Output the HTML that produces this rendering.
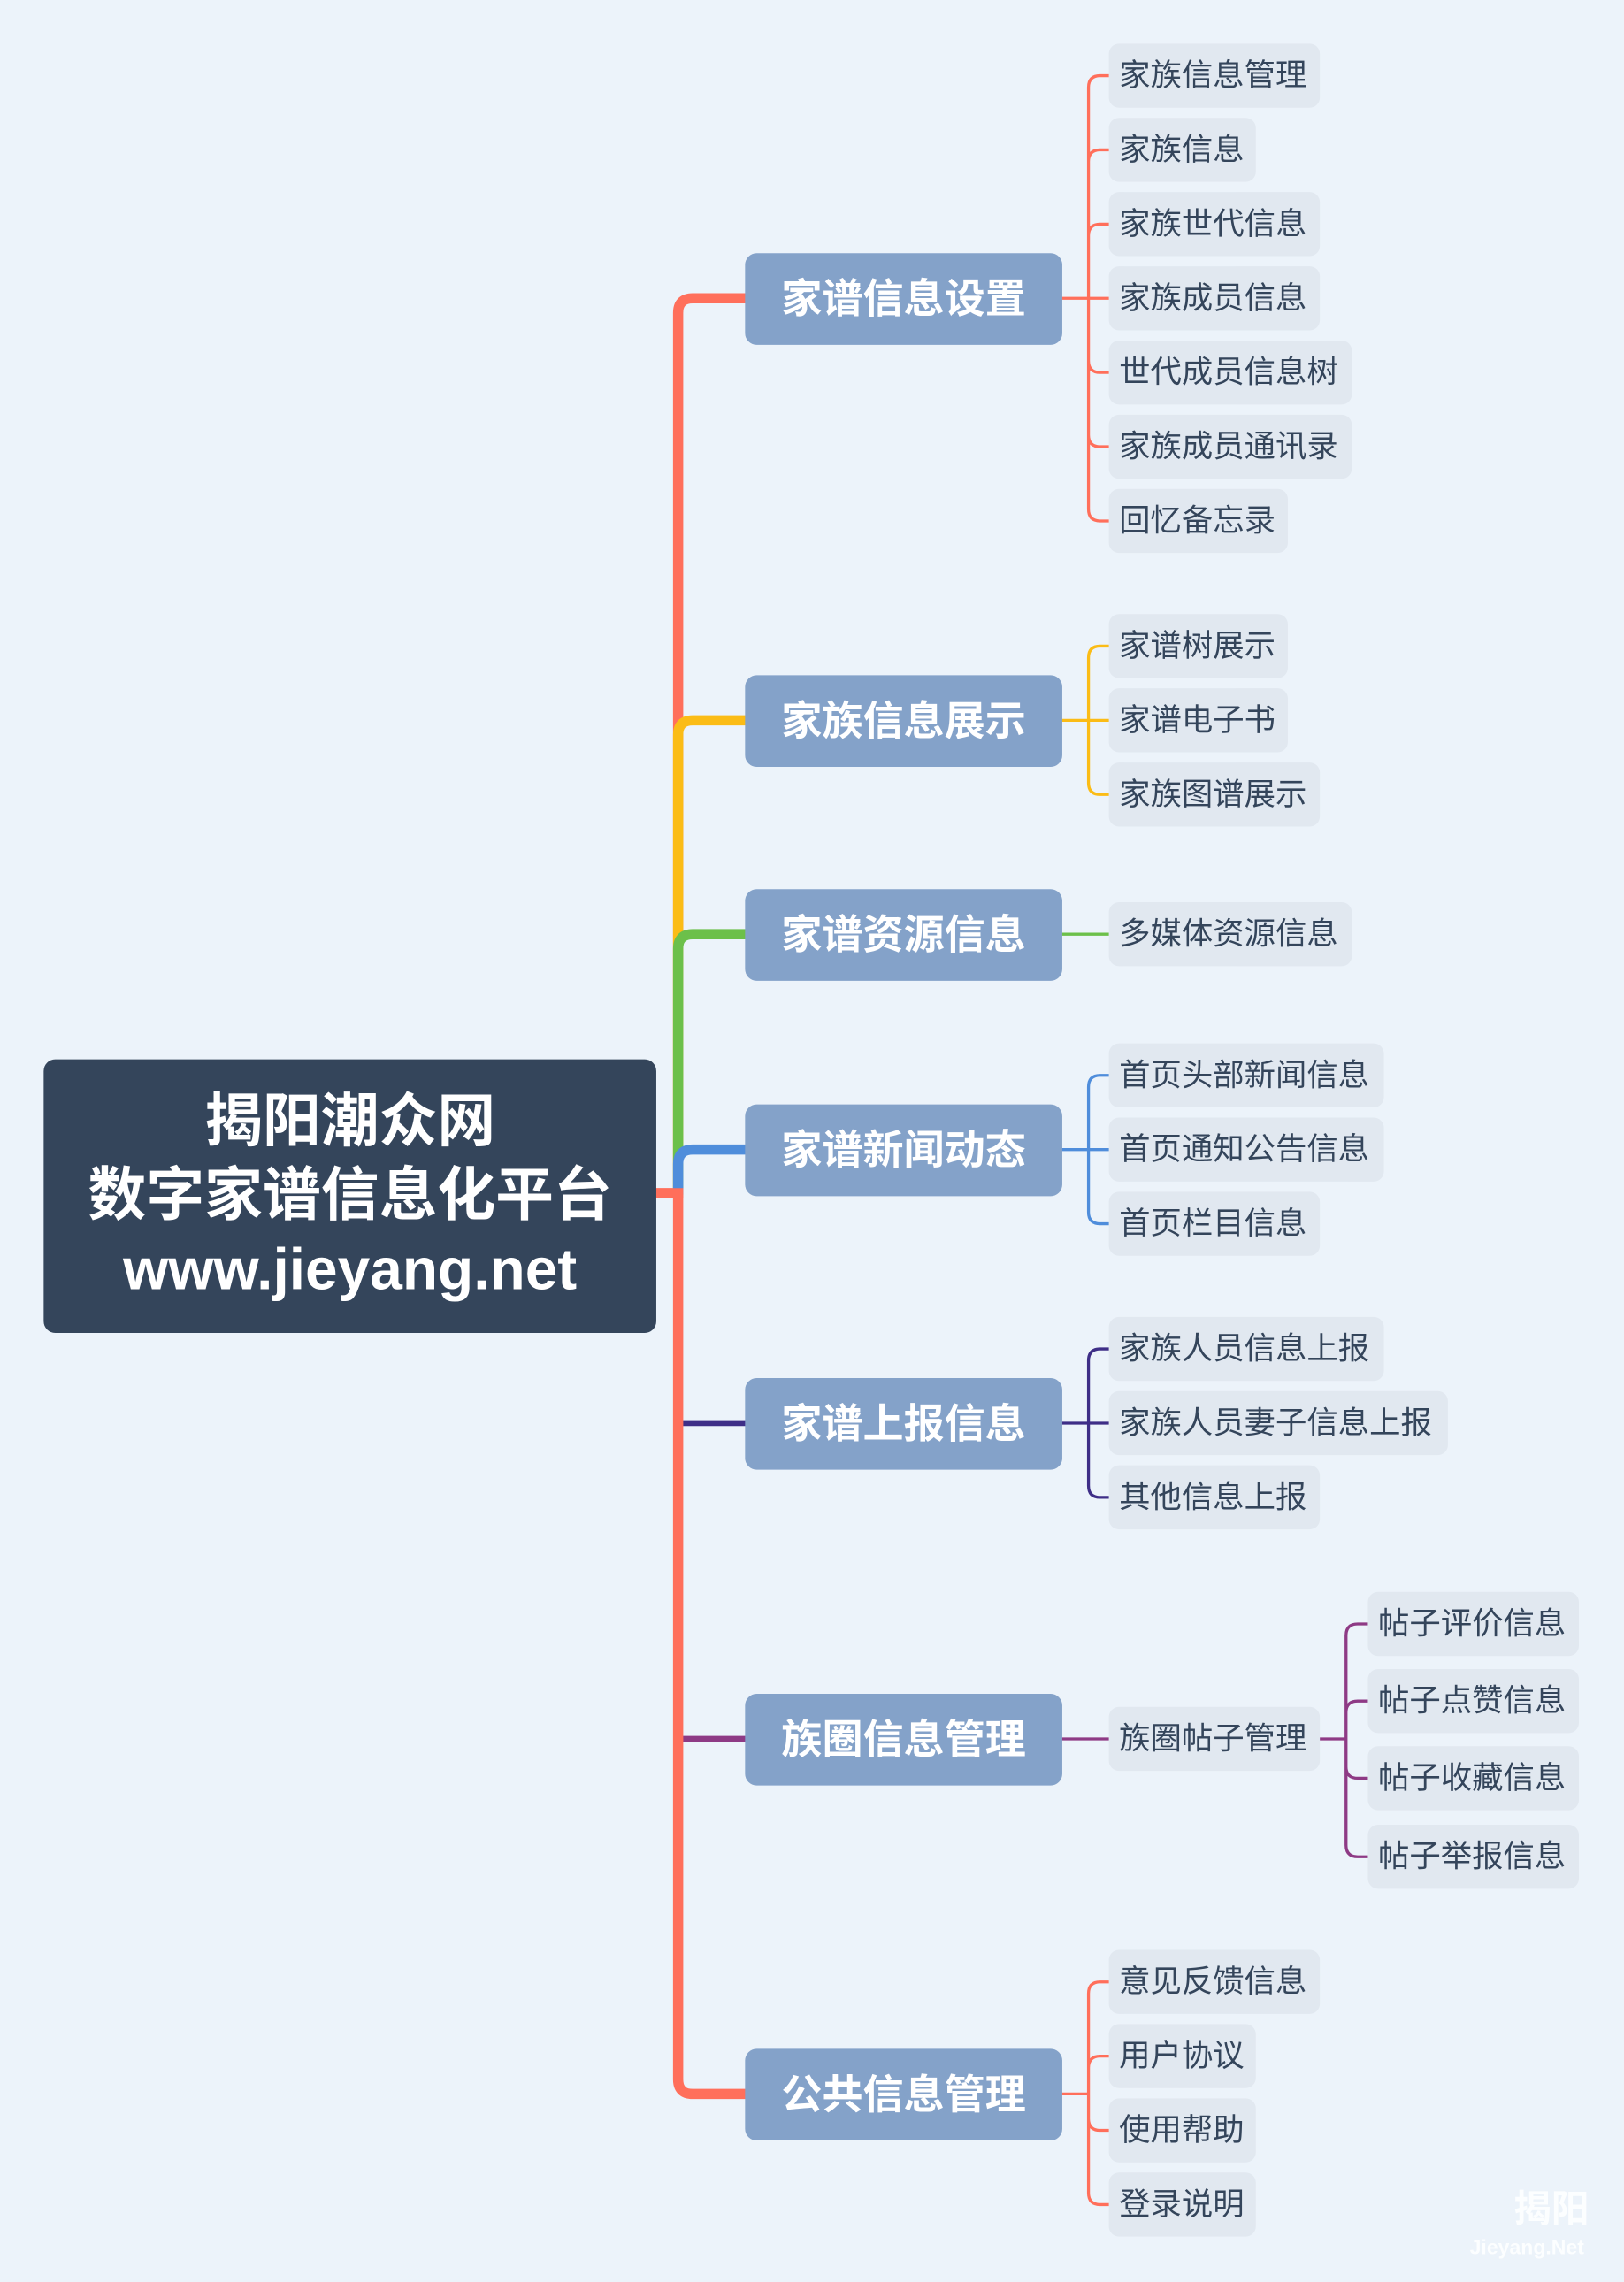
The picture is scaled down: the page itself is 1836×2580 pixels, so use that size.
<!DOCTYPE html>
<html><head><meta charset="utf-8"><style>
html,body{margin:0;padding:0;width:1836px;height:2580px;overflow:hidden;background:#ecf3fa}
#w{position:absolute;left:0;top:0;width:1116px;height:1568px;transform:scale(1.64516);transform-origin:0 0;font-family:"Liberation Sans","Noto Sans CJK SC",sans-serif}
.r{position:absolute;left:30px;top:728px;width:421px;height:188px;background:#34455b;border-radius:8px;color:#fff;font-weight:bold;font-size:40px;line-height:51px;text-align:center;padding-top:18px;box-sizing:border-box}
.b{position:absolute;left:512px;width:218px;height:63px;background:#84a2c9;border-radius:8px;color:#fff;font-weight:bold;font-size:28px;line-height:63px;text-align:center}
.l{position:absolute;height:44px;background:#e1e8f0;border-radius:7px;color:#34455b;font-size:21.5px;line-height:45px;padding-left:7px;box-sizing:border-box;white-space:nowrap}
svg{position:absolute;left:0;top:0}
</style></head><body><div id="w">
<svg width="1116" height="1568" fill="none" stroke-linecap="round">
<g stroke-width="7">
<path stroke="#ff6f5b" d="M451 820 H466 V215 Q466 205 476 205 H512"/>
<path stroke="#fbbc16" d="M466 820 V505 Q466 495 476 495 H512"/>
<path stroke="#6cc04a" d="M466 820 V652 Q466 642 476 642 H512"/>
<path stroke="#4f8ddb" d="M466 820 V800 Q466 790 476 790 H512"/>
<path stroke="#3e2e87" stroke-width="4" d="M468 978 H512"/>
<path stroke="#8e3a85" stroke-width="4" d="M468 1195 H512"/>
<path stroke="#ff6f5b" d="M451 820 H466 V1429 Q466 1439 476 1439 H512"/>
</g>
<g stroke-width="2">
<path stroke="#ff6f5b" d="M730 205H762M748 60V350M748 60Q748 52 756 52H762M748 111Q748 103 756 103H762M748 162Q748 154 756 154H762M748 248Q748 256 756 256H762M748 299Q748 307 756 307H762M748 350Q748 358 756 358H762"/>
<path stroke="#fbbc16" d="M730 495H762M748 452V538M748 452Q748 444 756 444H762M748 538Q748 546 756 546H762"/>
<path stroke="#6cc04a" d="M730 642H762"/>
<path stroke="#4f8ddb" d="M730 790H762M748 747V833M748 747Q748 739 756 739H762M748 833Q748 841 756 841H762"/>
<path stroke="#3e2e87" d="M730 978H762M748 935V1021M748 935Q748 927 756 927H762M748 1021Q748 1029 756 1029H762"/>
<path stroke="#8e3a85" d="M730 1195H762M907 1195H925M925 1124V1268M925 1124Q925 1116 933 1116H940M925 1177Q925 1169 933 1169H940M925 1214Q925 1222 933 1222H940M925 1268Q925 1276 933 1276H940"/>
<path stroke="#ff6f5b" d="M730 1439H748M748 1370V1507M748 1370Q748 1362 756 1362H762M748 1421Q748 1413 756 1413H762M748 1456Q748 1464 756 1464H762M748 1507Q748 1515 756 1515H762"/>
</g>
</svg>
<div class="r">揭阳潮众网<br>数字家谱信息化平台<br>www.jieyang.net</div>
<div class="b" style="top:174px">家谱信息设置</div>
<div class="b" style="top:464px">家族信息展示</div>
<div class="b" style="top:611px">家谱资源信息</div>
<div class="b" style="top:759px">家谱新闻动态</div>
<div class="b" style="top:947px">家谱上报信息</div>
<div class="b" style="top:1164px">族圈信息管理</div>
<div class="b" style="top:1408px">公共信息管理</div>
<div class="l" style="left:762px;top:30px;width:145px">家族信息管理</div>
<div class="l" style="left:762px;top:81px;width:101px">家族信息</div>
<div class="l" style="left:762px;top:132px;width:145px">家族世代信息</div>
<div class="l" style="left:762px;top:183px;width:145px">家族成员信息</div>
<div class="l" style="left:762px;top:234px;width:167px">世代成员信息树</div>
<div class="l" style="left:762px;top:285px;width:167px">家族成员通讯录</div>
<div class="l" style="left:762px;top:336px;width:123px">回忆备忘录</div>
<div class="l" style="left:762px;top:422px;width:123px">家谱树展示</div>
<div class="l" style="left:762px;top:473px;width:123px">家谱电子书</div>
<div class="l" style="left:762px;top:524px;width:145px">家族图谱展示</div>
<div class="l" style="left:762px;top:620px;width:167px">多媒体资源信息</div>
<div class="l" style="left:762px;top:717px;width:189px">首页头部新闻信息</div>
<div class="l" style="left:762px;top:768px;width:189px">首页通知公告信息</div>
<div class="l" style="left:762px;top:819px;width:145px">首页栏目信息</div>
<div class="l" style="left:762px;top:905px;width:189px">家族人员信息上报</div>
<div class="l" style="left:762px;top:956px;width:233px">家族人员妻子信息上报</div>
<div class="l" style="left:762px;top:1007px;width:145px">其他信息上报</div>
<div class="l" style="left:762px;top:1173px;width:145px">族圈帖子管理</div>
<div class="l" style="left:940px;top:1094px;width:145px">帖子评价信息</div>
<div class="l" style="left:940px;top:1147px;width:145px">帖子点赞信息</div>
<div class="l" style="left:940px;top:1200px;width:145px">帖子收藏信息</div>
<div class="l" style="left:940px;top:1254px;width:145px">帖子举报信息</div>
<div class="l" style="left:762px;top:1340px;width:145px">意见反馈信息</div>
<div class="l" style="left:762px;top:1391px;width:101px">用户协议</div>
<div class="l" style="left:762px;top:1442px;width:101px">使用帮助</div>
<div class="l" style="left:762px;top:1493px;width:101px">登录说明</div>
<div style="position:absolute;left:1040px;top:1498px;color:rgba(255,255,255,0.85);font-size:26px;font-weight:bold">揭阳</div>
<div style="position:absolute;left:1010px;top:1536px;color:rgba(255,255,255,0.85);font-size:14px;font-weight:bold">Jieyang.Net</div>
</div></body></html>
